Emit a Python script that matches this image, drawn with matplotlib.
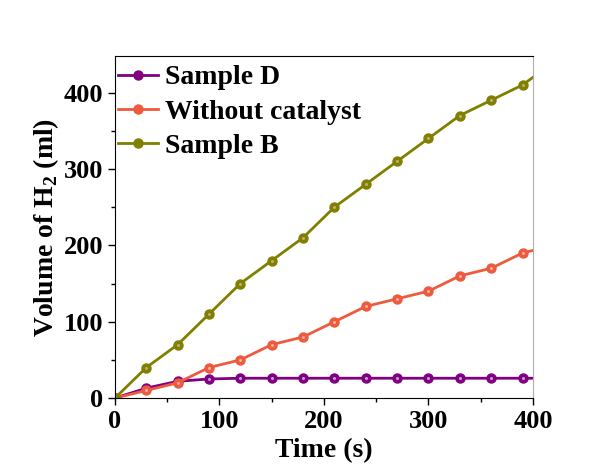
import numpy as np
import matplotlib.pyplot as plt
from matplotlib.ticker import MultipleLocator

plt.rcParams['font.family'] = ['Liberation Serif', 'DejaVu Serif']
plt.rcParams['font.weight'] = 'bold'
plt.rcParams['mathtext.fontset'] = 'custom'
plt.rcParams['mathtext.rm'] = 'Liberation Serif:bold'

time = [0, 30, 60, 90, 120, 150, 180, 210, 240, 270, 300, 330, 360, 390, 420]
sample_d = [0, 13, 22, 25, 26, 26, 26, 26, 26, 26, 26, 26, 26, 26, 26]
without_cat = [0, 10, 20, 40, 50, 70, 80, 100, 120, 130, 140, 160, 170, 190, 200]
sample_b = [0, 40, 70, 110, 150, 180, 210, 250, 280, 310, 340, 370, 390, 410, 440]

series = [
    ("Sample D", sample_d, "#800080", "#b8a0e0"),
    ("Without catalyst", without_cat, "#ee5a3e", "#f8b0a0"),
    ("Sample B", sample_b, "#808000", "#c8a878"),
]

fig = plt.figure(figsize=(6.05, 4.70), dpi=100)
ax = fig.add_axes([0.190, 0.153, 0.691, 0.728])

for name, vals, col, hl in series:
    ax.plot(time, vals, color=col, lw=2, marker='o', ms=6.5, mfc=col, mec=col, label=name)
    ax.plot(time, vals, ls='none', marker='o', ms=2.2, mfc=hl, mec='none')

ax.set_xlim(0, 400)
ax.set_ylim(0, 448)
ax.xaxis.set_major_locator(MultipleLocator(100))
ax.xaxis.set_minor_locator(MultipleLocator(50))
ax.yaxis.set_major_locator(MultipleLocator(100))
ax.yaxis.set_minor_locator(MultipleLocator(50))
ax.tick_params(which='both', direction='out', top=False, right=False, labelsize=19, width=1)
ax.tick_params(which='major', length=5)
ax.tick_params(which='minor', length=3)
for lab in ax.get_xticklabels() + ax.get_yticklabels():
    lab.set_fontweight('bold')

ax.spines['right'].set_color('#b0b0b0')
for s in ['left', 'bottom', 'top']:
    ax.spines[s].set_color('black')

ax.set_xlabel('Time (s)', fontsize=20, fontweight='bold', labelpad=4)
ax.set_ylabel(r'Volume of H$_2$ (ml)', fontsize=20, fontweight='bold', labelpad=2)

leg = ax.legend(loc='upper left', bbox_to_anchor=(0.0, 0.982), frameon=False, handlelength=1.45,
                borderaxespad=0.0, borderpad=0.1, labelspacing=0.32, handletextpad=0.25,
                prop={'weight': 'bold', 'size': 20})

fig.savefig('out.png', dpi=100)
